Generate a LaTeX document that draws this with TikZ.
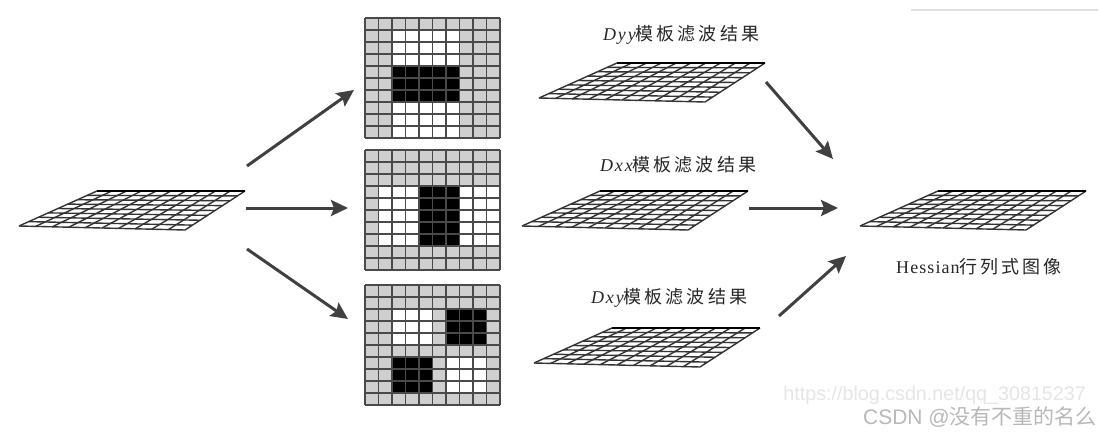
\documentclass[tikz,border=0pt]{standalone}
\usepackage{fontspec}
\setmainfont{Liberation Serif}
\newfontfamily\cjk[LetterSpace=17]{Noto Sans CJK SC}
\newfontfamily\wmcjk{Noto Sans CJK SC}
\newfontfamily\wmfont{Liberation Sans}
\newfontfamily\capital[LetterSpace=6]{Liberation Serif}
\newfontfamily\capit[LetterSpace=10,ItalicFont={Liberation Serif Italic}]{Liberation Serif}
\usetikzlibrary{arrows.meta}
\definecolor{cellgray}{HTML}{CFCFCF}
\definecolor{gridline}{HTML}{4A4A4A}
\definecolor{arrowdark}{HTML}{404040}
\tikzset{
  x=1pt,y=-1pt,
  flow/.style={draw=arrowdark,line width=3pt,-{Stealth[length=17pt,width=16pt,inset=3pt]}},
  caption/.style={font=\fontsize{18}{20}\selectfont,inner sep=0pt,text=black!85},
  meshline/.style={draw=black!80,line width=1.4pt},
  cellline/.style={draw=gridline,line width=1.8pt},
}
\newcommand{\filtergrid}[5]{%
 \begin{scope}[shift={(#1,#2)},x=#3pt/10,y=-#4pt/10]
  \fill[cellgray] (0,0) rectangle (10,10);
  #5
  \foreach \k in {0,...,10}{
    \draw[cellline] (\k,0) -- (\k,10);
    \draw[cellline] (0,\k) -- (10,\k);
  }
 \end{scope}}
\newcommand{\wcell}[4]{\fill[white] (#1,#2) rectangle (#3,#4);}
\newcommand{\bcell}[4]{\fill[black] (#1,#2) rectangle (#3,#4);}
\newcommand{\surface}[2]{%
 \begin{scope}[shift={(#1,#2)}]
  \foreach \i in {0,...,10}{
    \draw[meshline] ({\i*14.8},0) -- ({-78+\i*16.6},{35+\i*0.4});
  }
  \foreach \j in {0,...,8}{
    \pgfmathsetmacro{\t}{\j/8}
    \draw[meshline] ({-78*\t},{35*\t}) -- ({148-60*\t},{39*\t});
  }
  \draw[draw=black,line width=1.9pt] (0,0) -- (148,0);
 \end{scope}}
\begin{document}
\begin{tikzpicture}
\useasboundingbox (0,0) rectangle (1101,436);
\draw[draw=black!12,line width=1.4pt] (911,10) -- (1098,10);

\surface{97}{191}
\surface{617}{63}
\surface{600}{191}
\surface{612}{328}
\surface{938}{191}

\filtergrid{365}{18}{135}{120}{\wcell{2}{1}{7}{4}\wcell{2}{7}{7}{10}\bcell{2}{4}{7}{7}}
\filtergrid{365}{150}{135}{120}{\wcell{1}{3}{10}{8}\bcell{4}{3}{7}{8}}
\filtergrid{365}{285}{135}{120}{\wcell{2}{2}{5}{5}\bcell{6}{2}{9}{5}\bcell{2}{6}{5}{9}\wcell{6}{6}{9}{9}}

\node[caption,anchor=west] (tyy) at (603,35) {{\capit\itshape Dyy}{\cjk 模板滤波结果}};
\node[caption,anchor=west] (txx) at (600,165) {{\capit\itshape Dxx}{\cjk 模板滤波结果}};
\node[caption,anchor=west] (txy) at (591,298) {{\capit\itshape Dxy}{\cjk 模板滤波结果}};
\node[caption,anchor=west] (thes) at (896,267) {{\capital Hessian}{\cjk 行列式图像}};

\coordinate (a1s) at (247,166); \coordinate (a1e) at (354,90);
\coordinate (a2s) at (246,208); \coordinate (a2e) at (348,208);
\coordinate (a3s) at (247,249); \coordinate (a3e) at (348,319);
\coordinate (a4s) at (766,82);  \coordinate (a4e) at (833,159);
\coordinate (a5s) at (749,208); \coordinate (a5e) at (838,208);
\coordinate (a6s) at (779,316); \coordinate (a6e) at (846,256);
\foreach \n in {1,...,6}{\draw[flow] (a\n s) -- (a\n e);}

\node[anchor=east,inner sep=0pt,text=black!10,font=\wmfont\fontsize{19.7}{22}\selectfont] (wm1) at (1086,395) {https://blog.csdn.net/qq\_30815237};
\node[anchor=east,inner sep=0pt,text=black!28,font=\wmfont\fontsize{21}{24}\selectfont] (wm2) at (1097,417) {CSDN @{\wmcjk 没有不重的名么}};
\end{tikzpicture}
\end{document}
